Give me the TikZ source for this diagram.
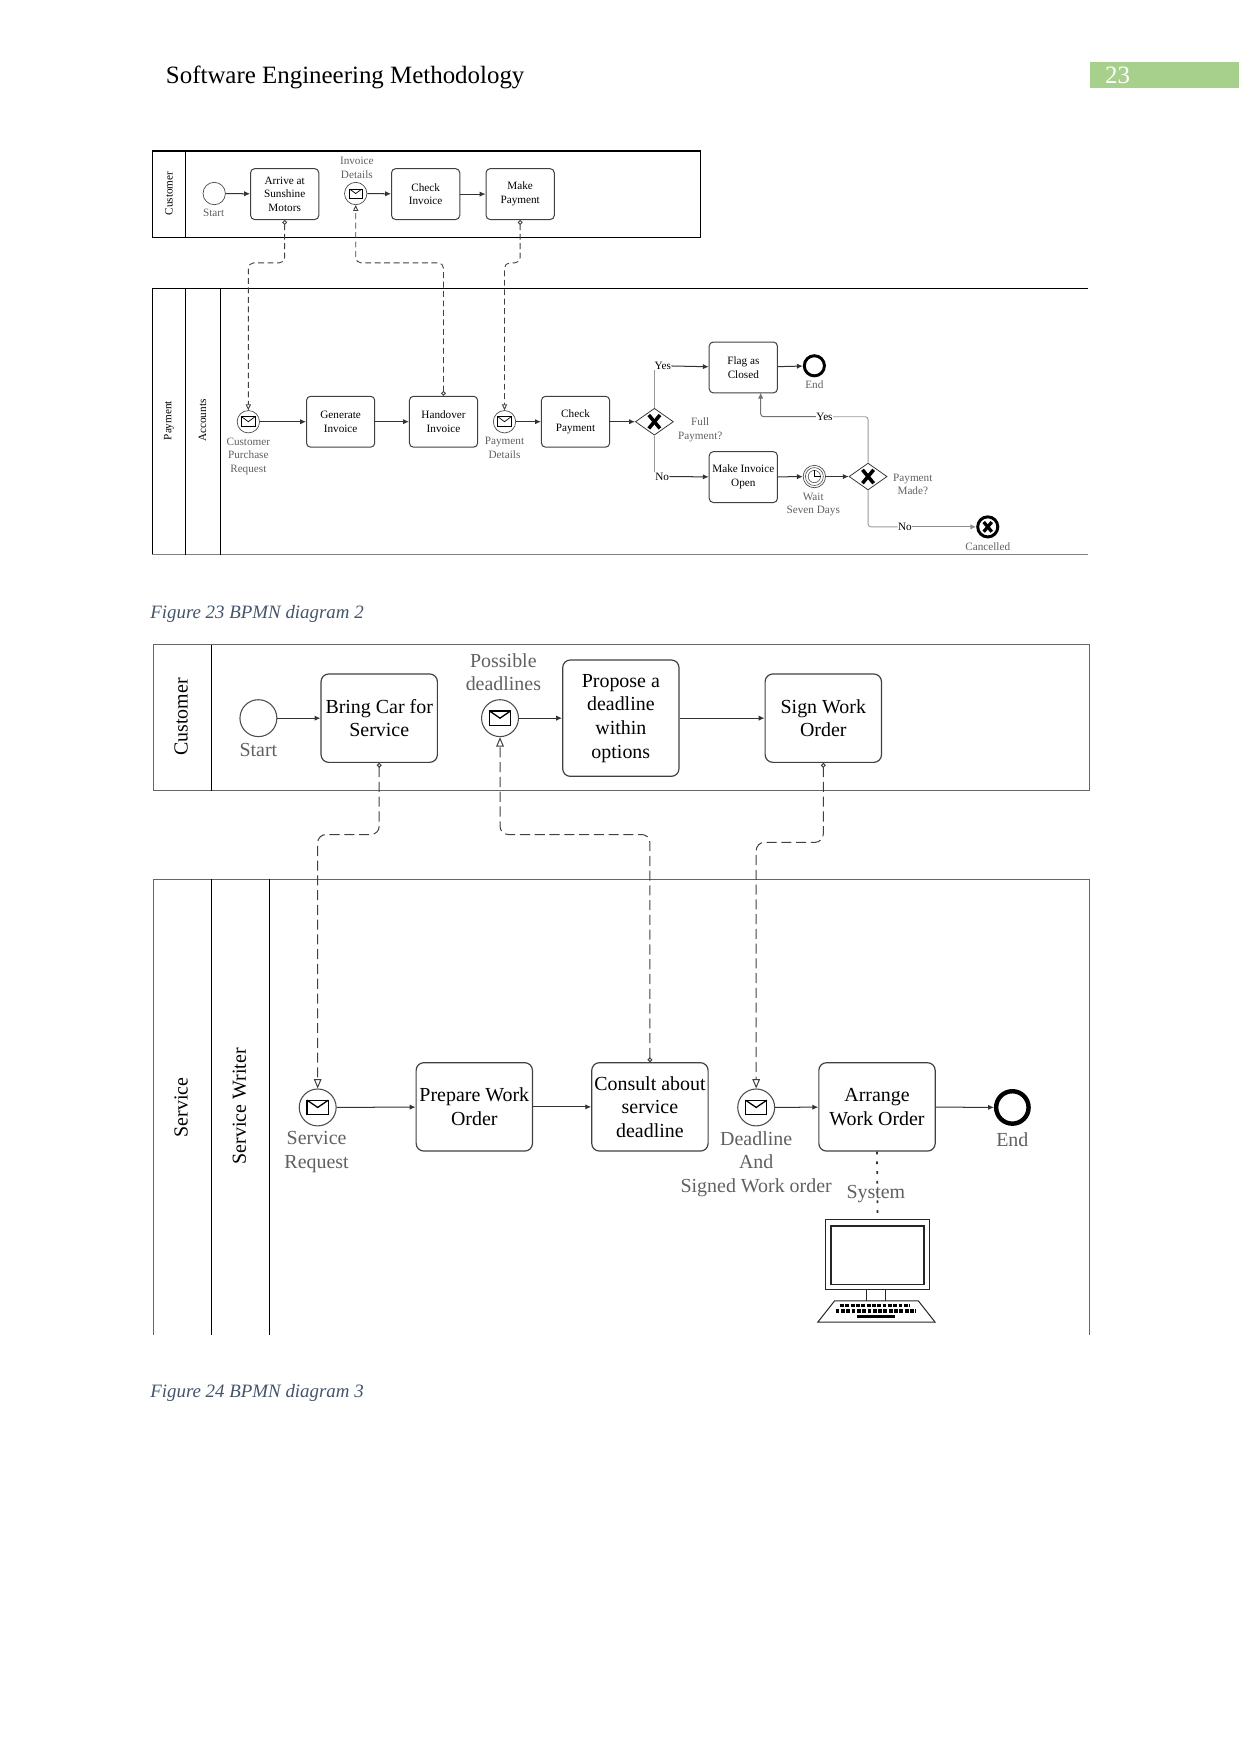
\documentclass[tikz,border=0pt]{standalone}
\usepackage{fontspec}
\setmainfont{Liberation Serif}
\usepackage{xcolor}
\usepackage{tikz}
\usetikzlibrary{arrows.meta,shapes.geometric}

\definecolor{headgreen}{HTML}{A8D08D}
\definecolor{captionblue}{HTML}{44546A}
\definecolor{labelgray}{HTML}{606060}
\def\pu{0.18936mm}

\newcommand{\envelope}[4]{
\draw[line width=#4] (#1.center) ++(-#2,-#3) rectangle ++(2*#2,2*#3);
\draw[line width=#4] (#1.center) ++(-#2,-#3) -- ++(#2,#3) -- ++(#2,-#3);
}
\newcommand{\cross}[3]{
\draw[black, line width=#3, line cap=butt] (#1.center) ++(-#2,-#2*1.2) -- ++(2*#2,2.4*#2);
\draw[black, line width=#3, line cap=butt] (#1.center) ++(#2,-#2*1.2) -- ++(-2*#2,2.4*#2);
}

\begin{document}
\begin{tikzpicture}[x=0.18936mm, y=-0.18936mm,
smalltext/.style={font=\fontsize{5.4}{6.6}\selectfont, align=center, inner sep=0pt},
largetext/.style={font=\fontsize{9.6}{11.4}\selectfont, align=center, inner sep=0pt},
smalllabel/.style={smalltext, text=labelgray},
largelabel/.style={largetext, text=labelgray},
smalltask/.style={smalltext, draw=black!75, line width=0.17mm, rectangle, rounded corners=0.7mm, minimum width=61*\pu, minimum height=45.5*\pu},
largetask/.style={largetext, draw=black!75, line width=0.2mm, rectangle, rounded corners=1.3mm, minimum width=104*\pu, minimum height=79*\pu},
smallevent/.style={draw=black!70, line width=0.12mm, circle, inner sep=0pt, minimum size=20*\pu},
largeevent/.style={draw=black!70, line width=0.18mm, circle, inner sep=0pt, minimum size=33*\pu},
endevent/.style={draw=black, circle, inner sep=0pt},
gateway/.style={draw=black!80, line width=0.13mm, diamond, aspect=1.4, inner sep=0pt, minimum width=34*\pu, minimum height=24*\pu},
wire/.style={black!80, line width=0.17mm, -{Latex[length=1mm,width=0.9mm]}},
graywire/.style={black!40, line width=0.15mm, rounded corners=0.5mm},
smallflow/.style={black!75, line width=0.15mm, dash pattern=on 1mm off 0.6mm, rounded corners=0.9mm, {Circle[open,length=0.8mm,width=0.8mm,fill=white]}-{Triangle[open,length=1mm,width=0.9mm,fill=white]}},
largeflow/.style={black!75, line width=0.17mm, dash pattern=on 1.7mm off 0.8mm, rounded corners=1.4mm, {Circle[open,length=0.8mm,width=0.8mm,fill=white]}-{Triangle[open,length=1.6mm,width=1.3mm,fill=white]}},
poolline/.style={black, line width=0.2mm},
graypool/.style={black!60, line width=0.2mm}]
\useasboundingbox (0,0) rectangle (1109,1568);

\fill[headgreen] (974,55) rectangle (1108,79);
\node[anchor=base west, inner sep=0pt, font=\fontsize{12}{14}\selectfont] (headtitle) at (148,75) {Software Engineering Methodology};
\node[anchor=center, inner sep=0pt, text=white, font=\fontsize{12}{14}\selectfont] (headpage) at (999,67) {23};

\draw[poolline] (136,135) rectangle (626,212);
\draw[poolline] (166,135) -- (166,212);
\node[smalltext, rotate=90] (customerpool) at (151,173) {Customer};
\draw[poolline] (973,258) -- (136,258) -- (136,496);
\draw[black!50, line width=0.2mm] (136,496) -- (973,496);
\draw[poolline] (166,258) -- (166,496);
\draw[poolline] (197,258) -- (197,496);
\node[smalltext, rotate=90] (paymentpool) at (151,376) {Payment};
\node[smalltext, rotate=90] (accountslane) at (181,376) {Accounts};

\node[smallevent] (startup) at (191.5,173) {};
\node[smalllabel] (startuplbl) at (191,190) {Start};
\node[smalltask] (arrive) at (254.5,173.5) {Arrive at\\Sunshine\\Motors};
\node[smallevent] (invoicemsg) at (318,173) {};
\envelope{invoicemsg}{5.5}{4}{0.12mm}
\node[smalllabel] (invoicelbl) at (319,150) {Invoice\\Details};
\node[smalltask] (checkinv) at (380.5,173.5) {Check\\Invoice};
\node[smalltask] (makepay) at (465,173.5) {Make\\Payment};
\draw[wire] (startup) -- (arrive);
\draw[wire] (invoicemsg) -- (checkinv);
\draw[wire] (checkinv) -- (makepay);

\node[smallevent] (requestmsg) at (222,377) {};
\envelope{requestmsg}{6}{4.5}{0.12mm}
\node[smalllabel] (requestlbl) at (222,408) {Customer\\Purchase\\Request};
\node[smalltask] (geninv) at (304.5,377) {Generate\\Invoice};
\node[smalltask] (handover) at (396.5,377) {Handover\\Invoice};
\node[smallevent] (paymsg) at (451,377) {};
\envelope{paymsg}{6}{4.5}{0.12mm}
\node[smalllabel] (paylbl) at (451,400.5) {Payment\\Details};
\node[smalltask] (checkpay) at (514.5,377) {Check\\Payment};
\node[gateway] (fullgate) at (585,377) {};
\cross{fullgate}{5}{0.6mm}
\node[smalllabel] (fulllbl) at (626,384) {Full\\Payment?};
\node[smalltask] (flag) at (664.5,328.5) {Flag as\\Closed};
\node[smalltask] (makeopen) at (664.5,426.5) {Make Invoice\\Open};
\node[endevent, line width=0.5mm, minimum size=18*\pu] (endup) at (728,327) {};
\node[smalllabel] (enduplbl) at (728,344) {End};
\node[smallevent] (timer) at (728,426) {};
\node[draw=black!70, line width=0.1mm, circle, inner sep=0pt, minimum size=16*\pu] (timerin) at (728,426) {};
\node[draw=black!70, line width=0.1mm, circle, inner sep=0pt, minimum size=11*\pu] (clock) at (728,426) {};
\draw[line width=0.1mm] (clock.center) -- (clock.north) (clock.center) -- (clock.east);
\node[smalllabel] (timerlbl) at (727,451) {Wait\\Seven Days};
\node[gateway] (madegate) at (776,426) {};
\cross{madegate}{5}{0.6mm}
\node[smalllabel] (madelbl) at (816,433) {Payment\\Made?};
\node[endevent, line width=0.5mm, minimum size=18*\pu] (cancel) at (883,471) {};
\cross{cancel}{3.6}{0.55mm}
\node[smalllabel] (cancellbl) at (883,489) {Cancelled};

\node[smalltext] (yesfull) at (592.5,327) {Yes};
\node[smalltext] (nofull) at (592,426) {No};
\node[smalltext, fill=white] (yesmade) at (737,372.5) {Yes};
\node[smalltext, fill=white] (nomade) at (809,471) {No};
\coordinate (flagin) at (680,351);

\draw[wire] (geninv) -- (handover);
\draw[wire] (requestmsg) -- (geninv);
\draw[wire] (paymsg) -- (checkpay);
\draw[wire] (checkpay) -- (fullgate);
\draw[wire] (flag) -- (endup);
\draw[wire] (makeopen) -- (timer);
\draw[wire] (timer) -- (madegate);
\draw[graywire] (fullgate.north) -- (fullgate.north|-yesfull.south);
\draw[graywire] (fullgate.south) -- (fullgate.south|-nofull.north);
\draw[wire] (yesfull) -- (flag);
\draw[wire] (nofull) -- (makeopen);
\draw[graywire] (madegate.north) |- (yesmade.east);
\draw[wire, black!55, rounded corners=0.5mm] (yesmade.west) -| (flagin);
\draw[graywire] (madegate.south) |- (nomade.west);
\draw[wire, black!45] (nomade.east) -- (cancel.west);

\coordinate (lanelow) at (0,235);
\draw[smallflow] (arrive.south) -- (arrive.south|-lanelow) -- (requestmsg.north|-lanelow) -- (requestmsg.north);
\draw[smallflow] (handover.north) -- (handover.north|-lanelow) -- (invoicemsg.south|-lanelow) -- (invoicemsg.south);
\draw[smallflow] (makepay.south) -- (makepay.south|-lanelow) -- (paymsg.north|-lanelow) -- (paymsg.north);

\node[anchor=base west, inner sep=0pt, text=captionblue, font=\fontsize{9.1}{12}\selectfont\itshape] (captionone) at (134,552.5) {Figure 23 BPMN diagram 2};

\draw[graypool] (137,576.5) rectangle (974,707);
\draw[poolline] (189,576.5) -- (189,707);
\node[largetext, rotate=90] (customerbig) at (162,641) {Customer};
\draw[graypool] (137,1193) -- (137,786) -- (974,786) -- (974,1193);
\draw[poolline] (189,786) -- (189,1193);
\draw[poolline] (241,786) -- (241,1193);
\node[largetext, rotate=90] (servicepool) at (162,990) {Service};
\node[largetext, rotate=90] (writerlane) at (214,989) {Service Writer};

\node[largeevent] (startbig) at (231,642) {};
\node[largelabel] (startbiglbl) at (231,670.5) {Start};
\node[largetask] (bringcar) at (339,642) {Bring Car for\\Service};
\node[largeevent] (deadlinemsg) at (447,642) {};
\envelope{deadlinemsg}{9.5}{6.5}{0.22mm}
\node[largelabel] (deadlinelbl) at (450,601) {Possible\\deadlines};
\node[largetask, minimum height=104*\pu] (propose) at (555,642) {Propose a\\deadline\\within\\options};
\node[largetask] (signorder) at (736,642) {Sign Work\\Order};
\draw[wire] (startbig) -- (bringcar);
\draw[wire] (deadlinemsg) -- (propose);
\draw[wire] (propose) -- (signorder);

\node[largeevent] (servicemsg) at (284,990) {};
\envelope{servicemsg}{9.5}{6.5}{0.22mm}
\node[largelabel] (servicelbl) at (283,1030) {Service\\Request};
\node[largetask] (prepare) at (424,989.5) {Prepare Work\\Order};
\node[largetask] (consult) at (581,989.5) {Consult about\\service\\deadline};
\node[largeevent] (signedmsg) at (676,990) {};
\envelope{signedmsg}{9.5}{6.5}{0.22mm}
\node[largelabel] (signedlbl) at (676,1040.5) {Deadline\\And\\Signed Work order};
\node[largetask] (arrange) at (784,989.5) {Arrange\\Work Order};
\node[endevent, line width=0.75mm, minimum size=29*\pu] (endbig) at (905,990) {};
\node[largelabel] (endbiglbl) at (905,1018.5) {End};
\draw[wire] (servicemsg) -- (prepare);
\draw[wire] (prepare) -- (consult);
\draw[wire] (signedmsg) -- (arrange);
\draw[wire] (arrange) -- (endbig);

\coordinate (lanemid) at (0,746);
\coordinate (lanesign) at (0,753);
\draw[largeflow] (bringcar.south) -- (bringcar.south|-lanemid) -- (servicemsg.north|-lanemid) -- (servicemsg.north);
\draw[largeflow] (consult.north) -- (consult.north|-lanemid) -- (deadlinemsg.south|-lanemid) -- (deadlinemsg.south);
\draw[largeflow] (signorder.south) -- (signorder.south|-lanesign) -- (signedmsg.north|-lanesign) -- (signedmsg.north);

\node[draw=black!85, line width=0.22mm, rectangle, inner sep=0pt, minimum width=93*\pu, minimum height=63*\pu] (monitor) at (784.5,1121.5) {};
\node[draw=black!85, line width=0.22mm, rectangle, inner sep=0pt, minimum width=83*\pu, minimum height=52*\pu] (screen) at (784.5,1122) {};
\draw[black!85, line width=0.17mm] (775,1153) -- (775,1163) (792,1153) -- (792,1163);
\draw[black!85, line width=0.17mm] (746,1163) -- (821,1163) -- (836,1182) -- (731,1182) -- cycle;
\draw[black, line width=0.55mm, dash pattern=on 0.65mm off 0.25mm] (751,1167) -- (813,1167);
\draw[black, line width=0.55mm, dash pattern=on 0.65mm off 0.25mm] (747,1172) -- (819,1172);
\draw[black, line width=0.5mm] (766,1177) -- (800,1177);
\draw[black!80, line width=0.3mm, dash pattern=on 0.45mm off 1.2mm] (arrange.south) -- (monitor.north);
\node[largelabel] (systemlbl) at (783,1067) {System};

\node[anchor=base west, inner sep=0pt, text=captionblue, font=\fontsize{9.1}{12}\selectfont\itshape] (captiontwo) at (134,1249.5) {Figure 24 BPMN diagram 3};
\end{tikzpicture}
\end{document}
